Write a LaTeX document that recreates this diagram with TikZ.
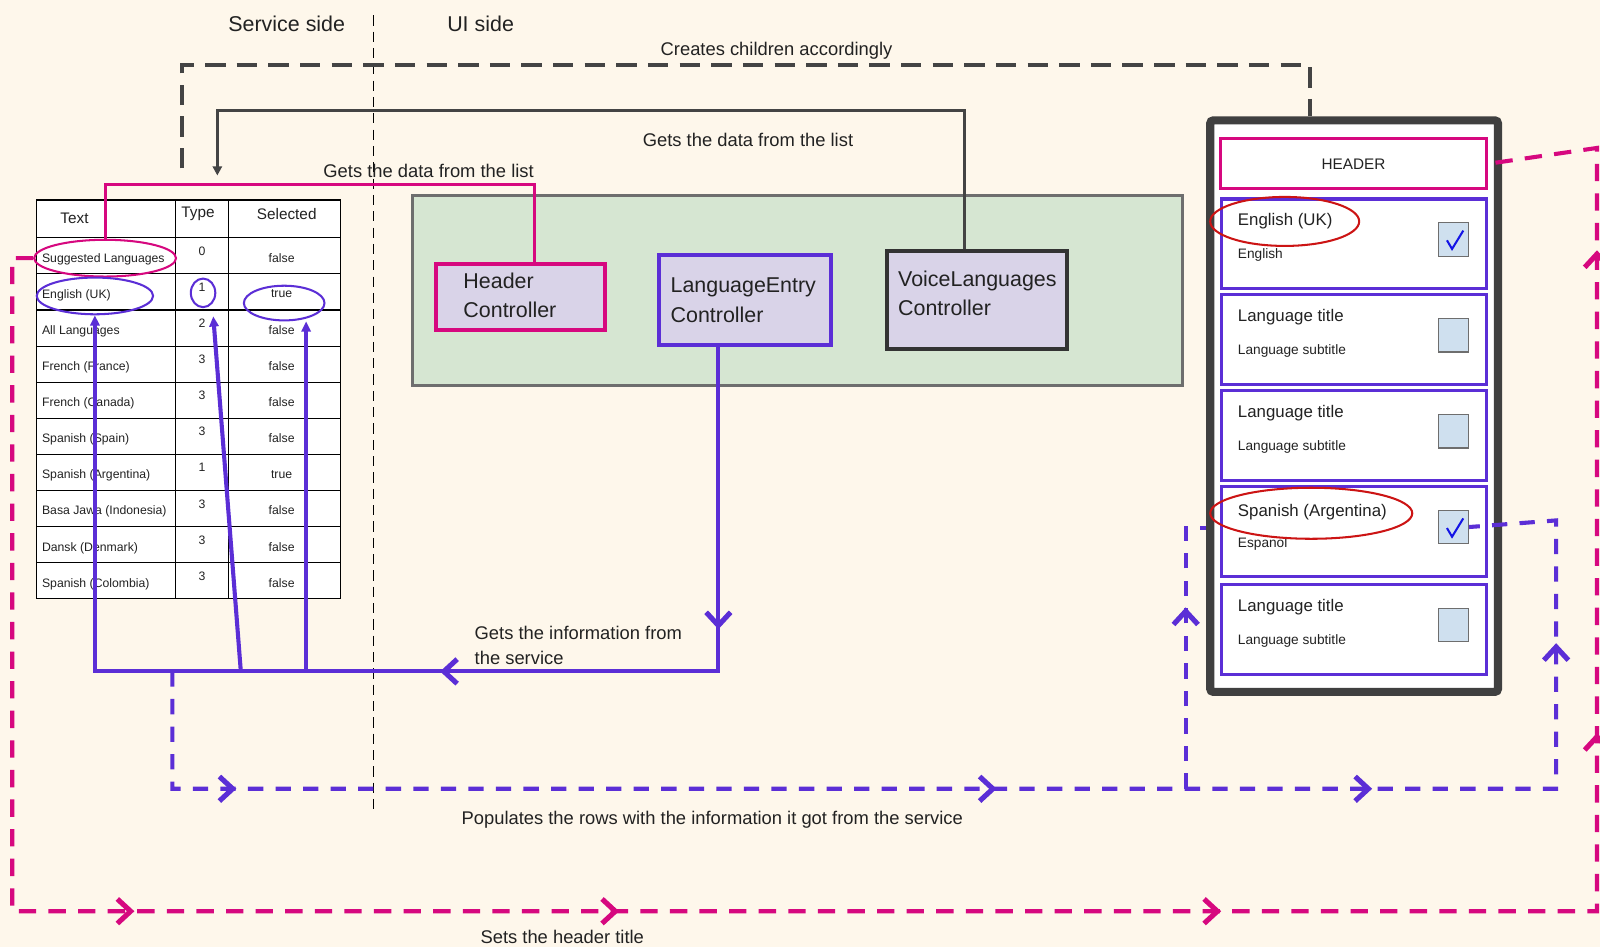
\documentclass[tikz,border=0pt]{standalone}
\usepackage{fontspec}
\setmainfont{Liberation Sans}
\usetikzlibrary{shapes.geometric,arrows.meta}
\definecolor{bg}{HTML}{FEF7EB}
\definecolor{txt}{HTML}{222222}
\definecolor{mag}{HTML}{D6087F}
\definecolor{purp}{HTML}{5B2ED6}
\definecolor{dk}{HTML}{444444}
\definecolor{frame}{HTML}{404040}
\definecolor{grn}{HTML}{D6E6D2}
\definecolor{grnb}{HTML}{6E6E6E}
\definecolor{lav}{HTML}{D9D3E8}
\definecolor{redc}{HTML}{CC1414}
\definecolor{cbfill}{HTML}{CFE0EF}
\definecolor{chk}{HTML}{1414E6}
\begin{document}
\begin{tikzpicture}[x=1pt,y=-1pt,
  lbl/.style={inner sep=0pt, text=txt, font=\fontsize{18}{22}\selectfont},
  side/.style={inner sep=0pt, text=txt, font=\fontsize{21}{25}\selectfont},
  ctrlbox/.style={rectangle, fill=lav, line width=4pt, inner sep=0pt},
  ctrltxt/.style={anchor=west, inner sep=0pt, text=txt, font=\fontsize{21}{25}\selectfont},
  cell/.style={inner sep=0pt, text=txt, font=\fontsize{12}{14}\selectfont},
  headcell/.style={inner sep=0pt, text=txt, font=\fontsize{15}{18}\selectfont},
  tabell/.style={ellipse, draw, line width=2pt, inner sep=0pt},
  rowbox/.style={rectangle, draw=purp, line width=3pt, fill=white, minimum width=260pt, minimum height=88pt, inner sep=0pt},
  rowtitle/.style={anchor=west, inner sep=0pt, text=txt, font=\fontsize{16.5}{20}\selectfont},
  rowsub/.style={anchor=west, inner sep=0pt, text=txt, font=\fontsize{13.4}{16}\selectfont},
  chkbox/.style={rectangle, draw=grnb, line width=1.2pt, fill=cbfill, minimum width=29pt, minimum height=33pt, inner sep=0pt},
  redell/.style={ellipse, draw=redc, line width=2pt, inner sep=0pt},
  pline/.style={draw=purp, line width=4pt},
  mline/.style={draw=mag, line width=3pt},
  dline/.style={draw=dk, line width=3pt},
  pdash/.style={draw=purp, line width=4pt, dash pattern=on 15pt off 12pt},
  mdash/.style={draw=mag, line width=4pt, dash pattern=on 17pt off 12pt},
  ddash/.style={draw=dk, line width=4pt, dash pattern=on 20pt off 11pt},
  tip/.style={-{Triangle[length=10pt,width=9pt]}},
  chev/.pic={\draw[line width=5pt, solid, line cap=butt, line join=miter, miter limit=10] (-7,-12) -- (6,0) -- (-7,12);}
]
\useasboundingbox (0,0) rectangle (1568,928);
\fill[bg] (0,0) rectangle (1568,928);

% service / UI divider
\draw[black, line width=1.5pt, dash pattern=on 10pt off 6pt] (366,15) -- (366,795);
\node[side] (svc) at (281,23) {Service side};
\node[side] (ui) at (471,23) {UI side};

% list table
\draw[black, line width=1pt, fill=white] (36,196) rectangle (334,587);
\foreach \r in {0,...,9} { \draw[black, line width=1pt] (36,233+\r*35.4) -- (334,233+\r*35.4); }
\draw[black, line width=1pt] (172,196) -- (172,587) (224,196) -- (224,587);
\node[headcell] (hText) at (73,214) {Text};
\node[headcell] (hType) at (194,210) {Type};
\node[headcell] (hSel) at (281,210) {Selected};
\foreach \a/\b/\c [count=\i] in {Suggested Languages/0/false, English (UK)/1/true, All Languages/2/false, French (France)/3/false, French (Canada)/3/false, Spanish (Spain)/3/false, Spanish (Argentina)/1/true, Basa Jawa (Indonesia)/3/false, Dansk (Denmark)/3/false, Spanish (Colombia)/3/false} {
  \node[cell, anchor=west] (lab\i) at (41,233+\i*35.4-35.4+20.7) {\a};
  \node[cell] (typ\i) at (198,233+\i*35.4-35.4+13) {\b};
  \node[cell] (sel\i) at (276,233+\i*35.4-35.4+19.5) {\c};
}
\node[tabell, draw=mag, minimum width=139pt, minimum height=36pt] (sug) at (103,253) {};
\node[tabell, draw=purp, minimum width=114pt, minimum height=36pt] (eUK) at (93,290) {};
\node[tabell, draw=purp, minimum width=24pt, minimum height=28pt] (eOne) at (199,287) {};
\node[tabell, draw=purp, minimum width=79pt, minimum height=34pt] (eTrue) at (278.5,297) {};

% controllers
\fill[grn] (404,192) rectangle (1159,378);
\draw[grnb, line width=3pt] (404,192) rectangle (1159,378);
\node[ctrlbox, draw=mag, minimum width=166pt, minimum height=64pt] (hc) at (510,291) {};
\node[ctrltxt] (hcA) at (454,275) {Header};
\node[ctrltxt] (hcB) at (454,304) {Controller};
\node[ctrlbox, draw=purp, minimum width=168pt, minimum height=88pt] (lec) at (730,294) {};
\node[ctrltxt] (lecA) at (657,282) {LanguageEntry};
\node[ctrltxt] (lecB) at (657,309) {Controller};
\node[ctrlbox, draw=black!80, minimum width=177pt, minimum height=96pt] (vlc) at (957.5,294) {};
\node[ctrltxt] (vlcA) at (880,275) {VoiceLanguages};
\node[ctrltxt] (vlcB) at (880,302) {Controller};

% populates the rows (dashed, under the phone)
\coordinate (pS) at (169,658);
\coordinate (pBL) at (169,773);
\coordinate (pBR) at (1525,773);
\coordinate (pTR) at (1525,510);
\coordinate (pJ) at (1162,773);
\coordinate (pJT) at (1162,517);

% phone list
\node[draw=frame, line width=8pt, fill=white, rounded corners=3pt, minimum width=282pt, minimum height=560pt, inner sep=0pt] (phone) at (1327,398) {};
\draw[pdash] (pJ) -- (pJT) -- (pJT -| phone.west);
\node[draw=mag, line width=3pt, fill=white, minimum width=261pt, minimum height=49pt, inner sep=0pt, text=txt, font=\fontsize{15}{18}\selectfont] (hdr) at (1326.5,160.5) {HEADER};
\foreach \t/\a/\b/\ta/\tb/\k [count=\i] in {195/English (UK)/English/22/55/1, 289/Language title/Language subtitle/22/55/0, 383/Language title/Language subtitle/22/55/0, 477/Spanish (Argentina)/Espanol/25/56/1, 573/Language title/Language subtitle/22/55/0} {
  \node[rowbox] (row\i) at (1327,\t+44) {};
  \node[rowtitle] (rt\i) at (1213,\t+\ta) {\a};
  \node[rowsub] (rs\i) at (1213,\t+\tb) {\b};
  \node[chkbox] (cb\i) at (1424.5,\t+39.5) {};
  \ifnum\k=1
    \draw[chk, line width=2pt, shift={(cb\i.center)}] (-6.5,1) -- (-1.5,9.5) -- (9.5,-8.5);
  \fi
}
\node[redell, minimum width=146pt, minimum height=48pt] (red1) at (1259,217) {};
\node[redell, minimum width=198pt, minimum height=50pt] (red4) at (1285,503) {};

% creates children accordingly
\coordinate (cS) at (178,165);
\coordinate (cT) at (1284,64);
\draw[ddash] (cS) -- (cS |- cT) -- (cT) -- (cT |- phone.north);
\node[lbl] (lCreate) at (761,50) {Creates children accordingly};

% voice languages controller reads the list
\coordinate (dT) at (945,108);
\coordinate (dE) at (213,172);
\draw[dline, -{Triangle[length=9pt,width=9pt]}] (vlc.north -| dT) -- (dT) -- (dT -| dE) -- (dE);
\node[lbl] (lGet1) at (733,137) {Gets the data from the list};

% header controller reads the list
\coordinate (mT) at (524,181);
\draw[mline] (hc.north -| mT) -- (mT) -- (mT -| sug.north) -- (sug.north);
\node[lbl] (lGet2) at (420,168) {Gets the data from the list};

% language entry controller reads the service
\coordinate (busR) at (704,658);
\coordinate (bT) at (236,658);
\coordinate (tT) at (209,310);
\coordinate (bS) at (300,658);
\draw[pline, tip] (lec.south -| busR) -- (busR) -- (eUK.south |- busR) -- (eUK.south);
\draw[pline, tip] (bT) -- (tT);
\draw[pline, tip] (bS) -- (bS |- eTrue.south);
\pic[color=purp, rotate=-90] at (704,607) {chev};
\pic[color=purp, rotate=180] at (441,658) {chev};
\node[lbl, anchor=west] (lInfoA) at (465,620) {Gets the information from};
\node[lbl, anchor=west] (lInfoB) at (465,645) {the service};

% populates the rows
\draw[pdash] (pS) -- (pBL) -- (pBR) -- (pTR) -- (cb4.east);
\pic[color=purp] at (222,773) {chev};
\pic[color=purp] at (967,773) {chev};
\pic[color=purp] at (1335,773) {chev};
\pic[color=purp, rotate=90] at (1162,605) {chev};
\pic[color=purp, rotate=90] at (1525,640) {chev};
\node[lbl] (lPop) at (698,803) {Populates the rows with the information it got from the service};

% sets the header title
\coordinate (mBL) at (12,893);
\coordinate (mBR) at (1565,893);
\coordinate (mTR) at (1565,145);
\draw[mdash] (sug.west) -- (sug.west -| mBL) -- (mBL) -- (mBR) -- (mTR) -- (hdr.east);
\pic[color=mag] at (122,893) {chev};
\pic[color=mag] at (597,893) {chev};
\pic[color=mag] at (1187,893) {chev};
\pic[color=mag, rotate=90] at (1565,255) {chev};
\pic[color=mag, rotate=90] at (1565,728) {chev};
\node[lbl] (lSet) at (551,918) {Sets the header title};
\end{tikzpicture}
\end{document}
